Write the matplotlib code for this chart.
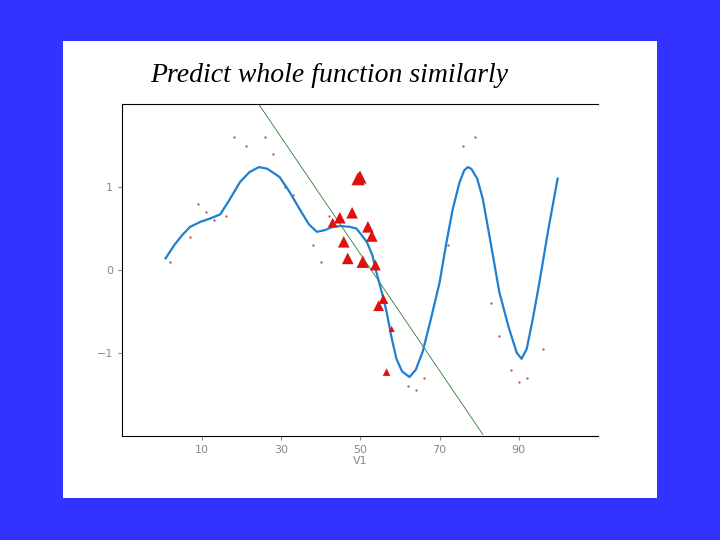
import matplotlib
matplotlib.use("Agg")
import matplotlib.pyplot as plt
import numpy as np

curve_x = [0.8, 3, 5, 7, 9.6, 12, 14.6, 17, 19.6, 22, 24.4, 26.5, 29.6, 32, 34.7, 37, 39, 41, 43, 45, 47.3, 49, 51.6, 53, 54, 55.3, 56.6, 57.8, 59.1, 60.5, 62.4, 64, 65.7, 67.5, 70, 71.6, 73.3, 75, 76.2, 77.1, 78, 79.5, 80.9, 83, 85.1, 87.5, 89.5, 90.7, 92, 93.5, 95.2, 97.5, 99.8]
curve_y = [0.14, 0.30, 0.42, 0.52, 0.58, 0.62, 0.67, 0.85, 1.06, 1.18, 1.24, 1.22, 1.12, 0.95, 0.73, 0.55, 0.46, 0.48, 0.52, 0.53, 0.52, 0.50, 0.34, 0.18, -0.02, -0.25, -0.5, -0.8, -1.07, -1.22, -1.29, -1.2, -0.99, -0.65, -0.15, 0.3, 0.73, 1.05, 1.2, 1.24, 1.22, 1.1, 0.86, 0.3, -0.27, -0.7, -1.0, -1.07, -0.95, -0.6, -0.15, 0.5, 1.1]

tri_x = [49.4, 49.9, 47.9, 44.8, 43.0, 51.9, 52.9, 45.8, 46.8, 50.6, 53.8, 55.8, 54.6, 57.9, 56.6]
tri_y = [1.10, 1.12, 0.69, 0.63, 0.57, 0.52, 0.41, 0.34, 0.14, 0.10, 0.06, -0.35, -0.43, -0.71, -1.23]
tri_s = [90, 90, 70, 70, 50, 70, 70, 70, 70, 80, 60, 50, 60, 20, 30]

dot_x = [2, 7, 9, 11, 13, 16, 18, 21, 26, 28, 31, 33, 38, 40, 42, 62, 64, 66, 72, 76, 79, 83, 85, 88, 90, 92, 96]
dot_y = [0.1, 0.4, 0.8, 0.7, 0.6, 0.65, 1.6, 1.5, 1.6, 1.4, 1.0, 0.9, 0.3, 0.1, 0.65, -1.4, -1.45, -1.3, 0.3, 1.5, 1.6, -0.4, -0.8, -1.2, -1.35, -1.3, -0.95]

line_x = [24.3, 80.9]
line_y = [2.0, -1.98]

fig = plt.figure(figsize=(7.2, 5.4), dpi=100)
fig.patch.set_facecolor("#3333ff")
panel = fig.add_axes([63/720, 1 - 498/540, 594/720, 457/540])
panel.set_facecolor("white")
panel.set_xticks([]); panel.set_yticks([])
for s in panel.spines.values():
    s.set_visible(False)
panel.text(87/594, 1 - 34/457, "Predict whole function similarly", fontsize=20,
           style="italic", family="Liberation Serif", va="center", ha="left",
           transform=panel.transAxes)

ax = fig.add_axes([122/720, 1 - 436/540, 476/720, 332/540])
ax.set_facecolor("white")
ax.set_xlim(-10.2, 110)
ax.set_ylim(-2.0, 2.0)
ax.plot(line_x, line_y, color="#2e7d32", lw=0.6)
ax.scatter(dot_x, dot_y, s=0.6, color="#bb6666", zorder=2)
ax.plot(curve_x, curve_y, color="#1f7fd0", lw=1.6, zorder=3)
ax.scatter(tri_x, tri_y, s=tri_s, marker="^", color="#e01010", zorder=4, linewidths=0)
ax.set_xticks([10, 30, 50, 70, 90])
ax.set_yticks([-1, 0, 1])
ax.set_xlabel("V1", fontsize=8, color="#888888", labelpad=1)
ax.tick_params(labelsize=8, colors="#888888", length=3)
ax.spines["right"].set_visible(False)
for s in ["left", "bottom", "top"]:
    ax.spines[s].set_color("black")
fig.savefig("out.png", dpi=100, facecolor=fig.get_facecolor())
